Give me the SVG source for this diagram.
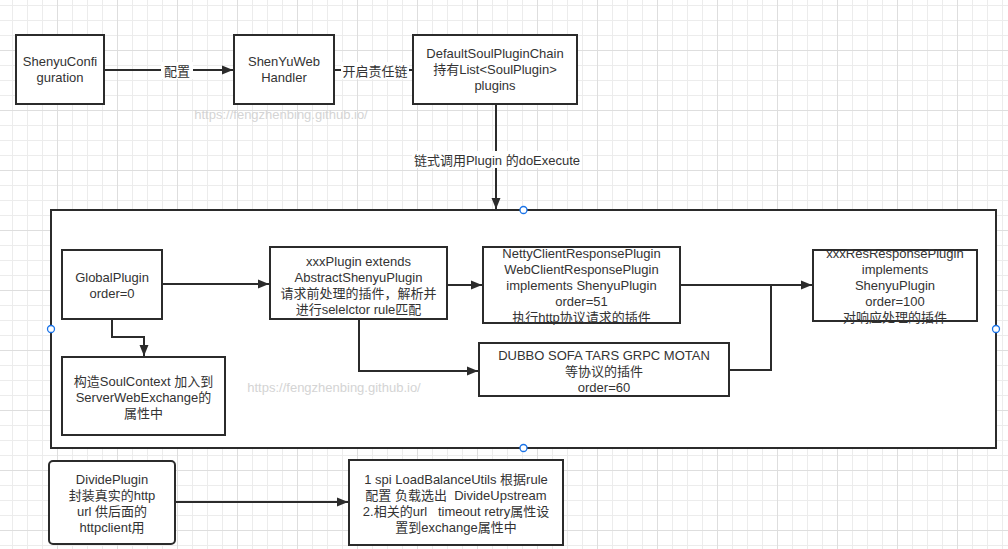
<svg xmlns="http://www.w3.org/2000/svg" width="1008" height="549" viewBox="0 0 1008 549">
<defs>
<pattern id="grid" x="57" y="50" width="60" height="60" patternUnits="userSpaceOnUse">
<path d="M15.5,0V60M30.5,0V60M45.5,0V60M0,15.5H60M0,30.5H60M0,45.5H60" stroke="#ececec" stroke-width="1" fill="none"/>
<path d="M0.5,0V60M0,0.5H60" stroke="#dedede" stroke-width="1" fill="none"/>
</pattern>
<marker id="arr" markerUnits="userSpaceOnUse" markerWidth="12" markerHeight="10" refX="11" refY="5" orient="auto">
<path d="M0,0.5 L11,5 L0,9.5 Z" fill="#2b2b2b"/>
</marker>
<style>
.box{fill:#fff;stroke:#2b2b2b;stroke-width:2}
.t{font-family:"Liberation Sans","Noto Sans CJK SC",sans-serif;font-size:13px;fill:#333;text-anchor:middle;white-space:pre}
.wm{font-family:"Liberation Sans","Noto Sans CJK SC",sans-serif;font-size:13px;fill:#d4d4d4;text-anchor:middle}
.e{fill:none;stroke:#2b2b2b;stroke-width:2}
.lb{fill:#fff}
.h{fill:#fff;stroke:#1a73e8;stroke-width:1.3}
</style>
</defs>
<rect width="1008" height="549" fill="#fff"/>
<rect width="1008" height="549" fill="url(#grid)"/>

<g id="container">
<rect class="box" x="51" y="210" width="945" height="238"/>
</g>

<text class="wm" x="281" y="119">https://fengzhenbing.github.io/</text>
<text class="wm" x="334" y="392">https://fengzhenbing.github.io/</text>

<g id="connectors">
<path class="e" d="M104,70 H233" marker-end="url(#arr)"/>
<rect class="lb" x="161" y="62" width="32" height="17"/>
<text class="t" x="177" y="75.5">配置</text>
<path class="e" d="M334,70 H412" marker-end="url(#arr)"/>
<rect class="lb" x="341" y="62" width="68" height="17"/>
<text class="t" x="375" y="75.5">开启责任链</text>
<path class="e" d="M496,104 V209" marker-end="url(#arr)"/>
<rect class="lb" x="412" y="151" width="170" height="17"/>
<text class="t" x="497" y="164.5">链式调用Plugin 的doExecute</text>
<path class="e" d="M162,284 H269" marker-end="url(#arr)"/>
<path class="e" d="M112,319 V337 H144 V356" marker-end="url(#arr)"/>
<path class="e" d="M447,285 H482" marker-end="url(#arr)"/>
<path class="e" d="M359,319 V371 H478" marker-end="url(#arr)"/>
<path class="e" d="M680,285 H812" marker-end="url(#arr)"/>
<path class="e" d="M729,370 H771 V285"/>
<path class="e" d="M175,502 H348" marker-end="url(#arr)"/>
</g>

<g id="n-shenyuconfiguration">
<rect class="box" x="16" y="35" width="88" height="69"/>
<text class="t" x="60" y="66">ShenyuConfi</text>
<text class="t" x="60" y="82">guration</text>
</g>
<g id="n-shenyuwebhandler">
<rect class="box" x="234" y="35" width="100" height="69"/>
<text class="t" x="284" y="66">ShenYuWeb</text>
<text class="t" x="284" y="82">Handler</text>
</g>
<g id="n-defaultchain">
<rect class="box" x="413" y="35" width="164" height="69"/>
<text class="t" x="495" y="58">DefaultSoulPluginChain</text>
<text class="t" x="495" y="74">持有List&lt;SoulPlugin&gt;</text>
<text class="t" x="495" y="90">plugins</text>
</g>
<g id="n-globalplugin">
<rect class="box" x="62" y="250" width="100" height="69"/>
<text class="t" x="112" y="282">GlobalPlugin</text>
<text class="t" x="112" y="298">order=0</text>
</g>
<g id="n-soulcontext">
<rect class="box" x="62" y="357" width="163" height="78"/>
<text class="t" x="143.5" y="385.5">构造SoulContext 加入到</text>
<text class="t" x="143.5" y="401.5">ServerWebExchange的</text>
<text class="t" x="143.5" y="417.5">属性中</text>
</g>
<g id="n-xxxplugin">
<rect class="box" x="270" y="247" width="177" height="72"/>
<text class="t" x="358.5" y="265.5">xxxPlugin extends</text>
<text class="t" x="358.5" y="281.5">AbstractShenyuPlugin</text>
<text class="t" x="358.5" y="297.5">请求前处理的插件，解析并</text>
<text class="t" x="358.5" y="313.5">进行selelctor rule匹配</text>
</g>
<g id="n-netty">
<rect class="box" x="483" y="247" width="197" height="76"/>
<text class="t" x="581.5" y="257.5">NettyClientResponsePlugin</text>
<text class="t" x="581.5" y="273.5">WebClientResponsePlugin</text>
<text class="t" x="581.5" y="289.5">implements ShenyuPlugin</text>
<text class="t" x="581.5" y="305.5">order=51</text>
<text class="t" x="581.5" y="321.5">执行http协议请求的插件</text>
</g>
<g id="n-dubbo">
<rect class="box" x="479" y="343" width="250" height="53"/>
<text class="t" x="604" y="359.5">DUBBO SOFA TARS GRPC MOTAN</text>
<text class="t" x="604" y="375.5">等协议的插件</text>
<text class="t" x="604" y="391.5">order=60</text>
</g>
<g id="n-xxxres">
<rect class="box" x="813" y="250" width="164" height="71"/>
<text class="t" x="895" y="257.5">xxxResResponsePlugin</text>
<text class="t" x="895" y="273.5">implements</text>
<text class="t" x="895" y="289.5">ShenyuPlugin</text>
<text class="t" x="895" y="305.5">order=100</text>
<text class="t" x="895" y="321.5">对响应处理的插件</text>
</g>
<g id="n-divideplugin">
<rect class="box" x="49" y="461" width="126" height="83" rx="4"/>
<text class="t" x="112" y="484">DividePlugin</text>
<text class="t" x="112" y="500">封装真实的http</text>
<text class="t" x="112" y="516">url 供后面的</text>
<text class="t" x="112" y="532">httpclient用</text>
</g>
<g id="n-loadbalance">
<rect class="box" x="349" y="460" width="214" height="85"/>
<text class="t" x="456" y="484">1 spi LoadBalanceUtils 根据rule</text>
<text class="t" x="456" y="500">配置 负载选出  DivideUpstream</text>
<text class="t" x="456" y="516">2.相关的url   timeout retry属性设</text>
<text class="t" x="456" y="532">置到exchange属性中</text>
</g>

<g id="handles">
<circle class="h" cx="523.5" cy="210" r="3.5"/>
<circle class="h" cx="51" cy="329" r="3.5"/>
<circle class="h" cx="996" cy="329" r="3.5"/>
<circle class="h" cx="523.5" cy="448" r="3.5"/>
</g>
</svg>
